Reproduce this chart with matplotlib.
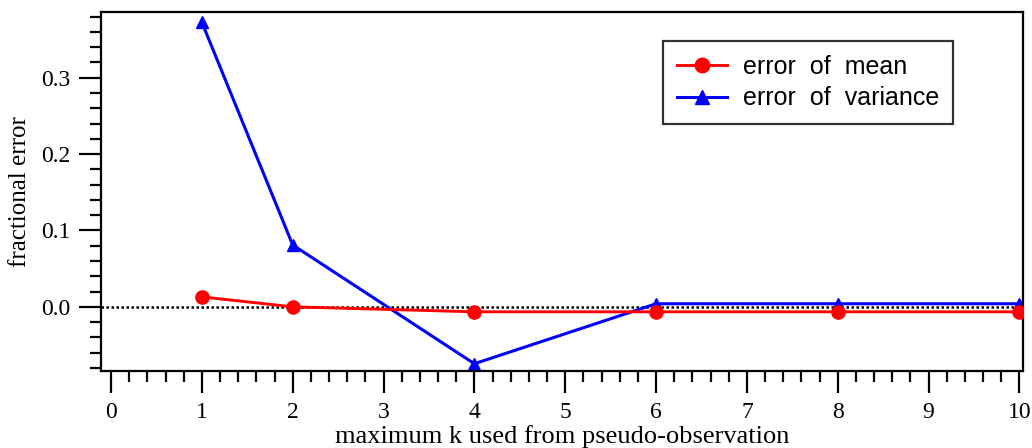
import matplotlib
matplotlib.use("Agg")
import matplotlib.pyplot as plt
from matplotlib.ticker import MultipleLocator, FormatStrFormatter

k_values = [1, 2, 4, 6, 8, 10]
err_mean = [0.013, 0.0, -0.0065, -0.0065, -0.0065, -0.0065]
err_var = [0.3725, 0.081, -0.0745, 0.004, 0.004, 0.004]
labels = ["error  of  mean", "error  of  variance"]

fig = plt.figure(figsize=(10.32, 4.48), dpi=100)
ax = fig.add_axes([0.0979, 0.1719, 0.8934, 0.8013])

ax.axhline(0.0, color="black", linestyle=(0, (1, 1)), linewidth=1.8, zorder=1)
ax.plot(k_values, err_mean, color="#ff0000", marker="o", markersize=9.5,
        linewidth=2.1, label=labels[0], zorder=3)
ax.plot(k_values, err_var, color="#0000ff", marker="^", markersize=9,
        linewidth=2.2, label=labels[1], zorder=2)

ax.set_xlim(-0.11, 10.04)
ax.set_ylim(-0.084, 0.386)

ax.xaxis.set_major_locator(MultipleLocator(1))
ax.xaxis.set_minor_locator(MultipleLocator(0.2))
ax.yaxis.set_major_locator(MultipleLocator(0.1))
ax.yaxis.set_minor_locator(MultipleLocator(0.02))
ax.yaxis.set_major_formatter(FormatStrFormatter("%.1f"))

for s in ax.spines.values():
    s.set_linewidth(1.6)
ax.tick_params(which="major", direction="out", length=16, width=1.6,
               labelsize=17, pad=6)
ax.tick_params(which="minor", direction="out", length=8, width=1.6)
for lab in ax.get_xticklabels() + ax.get_yticklabels():
    lab.set_fontfamily("Liberation Serif")

ax.set_xlabel("maximum k used from pseudo-observation", fontsize=19,
              fontfamily="Liberation Serif", labelpad=2)
ax.set_ylabel("fractional error", fontsize=18, fontfamily="Liberation Serif",
              labelpad=7)

leg = ax.legend(loc="upper left", bbox_to_anchor=(0.610, 0.919),
                prop={"family": "Liberation Sans", "size": 18},
                frameon=True, fancybox=False, edgecolor="black",
                handlelength=2.0, borderpad=0.55, labelspacing=0.3,
                handletextpad=0.65, borderaxespad=0, markerscale=1.1)
leg.get_frame().set_linewidth(1.6)

fig.savefig("out.png", dpi=100)
